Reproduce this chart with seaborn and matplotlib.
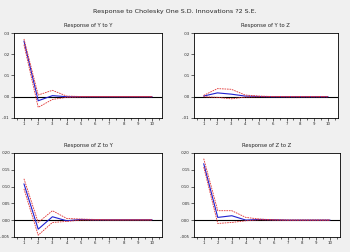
import matplotlib
matplotlib.use("Agg")
import matplotlib.pyplot as plt
from matplotlib.ticker import FuncFormatter, MultipleLocator
import pandas as pd
import seaborn as sns

sns.set_style("white")
plt.rcParams['font.family'] = ['DejaVu Sans']

periods = [1, 2, 3, 4, 5, 6, 7, 8, 9, 10]

# Response of Y to Y
yy_resp = [0.0262, -0.0019, 0.0005, 0.0000, 0.0000, 0.0, 0.0, 0.0, 0.0, 0.0]
yy_upper = [0.0272, 0.0008, 0.0030, 0.0003, 0.0001, 0.0, 0.0, 0.0, 0.0, 0.0]
yy_lower = [0.0245, -0.0050, -0.0013, -0.0003, -0.0001, 0.0, 0.0, 0.0, 0.0, 0.0]

# Response of Y to Z
yz_resp = [0.0003, 0.0018, 0.0012, 0.0003, 0.0001, 0.0, 0.0, 0.0, 0.0, 0.0]
yz_upper = [0.0006, 0.0038, 0.0035, 0.0008, 0.0003, 0.0001, 0.0, 0.0, 0.0, 0.0]
yz_lower = [0.0000, -0.0003, -0.0010, -0.0002, 0.0, 0.0, 0.0, 0.0, 0.0, 0.0]

# Response of Z to Y
zy_resp = [0.0108, -0.0027, 0.0010, -0.0002, 0.0002, 0.0001, 0.0001, 0.0001, 0.0001, 0.0001]
zy_upper = [0.0123, -0.0007, 0.0028, 0.0005, 0.0003, 0.0002, 0.0001, 0.0001, 0.0001, 0.0001]
zy_lower = [0.0093, -0.0045, -0.0007, -0.0004, 0.0000, 0.0, 0.0, 0.0, 0.0, 0.0]

# Response of Z to Z
zz_resp = [0.0168, 0.0008, 0.0013, 0.0000, 0.0002, 0.0001, 0.0, 0.0, 0.0, 0.0]
zz_upper = [0.0183, 0.0028, 0.0028, 0.0008, 0.0003, 0.0001, 0.0, 0.0, 0.0, 0.0]
zz_lower = [0.0158, -0.0010, -0.0007, -0.0002, 0.0001, 0.0, 0.0, 0.0, 0.0, 0.0]

panels = [
    ("Response of Y to Y", yy_resp, yy_upper, yy_lower, [0.040, 0.532, 0.423, 0.337], (-0.01, 0.03), 0.01, 2),
    ("Response of Y to Z", yz_resp, yz_upper, yz_lower, [0.554, 0.532, 0.411, 0.337], (-0.01, 0.03), 0.01, 2),
    ("Response of Z to Y", zy_resp, zy_upper, zy_lower, [0.040, 0.060, 0.423, 0.333], (-0.005, 0.020), 0.005, 3),
    ("Response of Z to Z", zz_resp, zz_upper, zz_lower, [0.554, 0.060, 0.417, 0.333], (-0.005, 0.020), 0.005, 3),
]

fig = plt.figure(figsize=(3.5, 2.52), dpi=100)
fig.patch.set_facecolor("#f0f0f0")
fig.text(0.5, 0.955, "Response to Cholesky One S.D. Innovations ?2 S.E.",
         ha="center", va="center", fontsize=4.6)


def fmt(nd):
    def f(v, pos):
        s = f"{v:.{nd}f}"
        return s.replace("0.", ".", 1)
    return FuncFormatter(f)


for title, resp, upper, lower, rect, ylim, step, nd in panels:
    ax = fig.add_axes(rect)
    ax.set_facecolor("white")
    df = pd.DataFrame({"period": periods, "resp": resp, "upper": upper, "lower": lower})
    ax.axhline(0, color="black", lw=0.8, zorder=1)
    sns.lineplot(data=df, x="period", y="resp", ax=ax, color="#2020d0", lw=0.8, zorder=2)
    sns.lineplot(data=df, x="period", y="upper", ax=ax, color="#e03030", lw=0.6,
                 linestyle=(0, (2, 1)), zorder=3)
    sns.lineplot(data=df, x="period", y="lower", ax=ax, color="#e03030", lw=0.6,
                 linestyle=(0, (2, 1)), zorder=3)
    ax.set_xlim(0.3, 10.7)
    ax.set_ylim(*ylim)
    ax.set_xticks(periods)
    ax.xaxis.set_minor_locator(MultipleLocator(0.5))
    ax.yaxis.set_major_locator(MultipleLocator(step))
    ax.yaxis.set_major_formatter(fmt(nd))
    ax.tick_params(axis="both", which="major", labelsize=2.8, length=2, width=0.5, pad=1)
    ax.tick_params(axis="x", which="minor", length=1.5, width=0.5)
    ax.tick_params(bottom=True, left=True, which="both")
    ax.set_xlabel("")
    ax.set_ylabel("")
    ax.set_title(title, fontsize=3.8, pad=4)
    for sp in ax.spines.values():
        sp.set_linewidth(0.6)
        sp.set_color("black")

fig.savefig("out.png", dpi=100, facecolor=fig.get_facecolor())
